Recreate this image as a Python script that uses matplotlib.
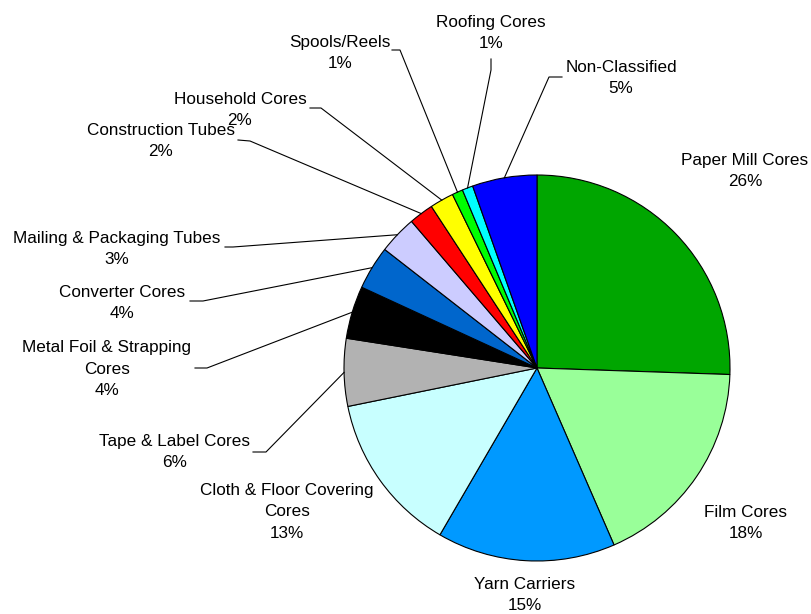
import numpy as np
import matplotlib
matplotlib.use('Agg')
from matplotlib import pyplot as plt

plt.rcParams['font.family'] = ['Liberation Sans', 'DejaVu Sans']

categories = ['Paper Mill Cores', 'Film Cores', 'Yarn Carriers',
              'Cloth & Floor Covering\nCores', 'Tape & Label Cores',
              'Metal Foil & Strapping\nCores', 'Converter Cores',
              'Mailing & Packaging Tubes', 'Construction Tubes',
              'Household Cores', 'Spools/Reels', 'Roofing Cores',
              'Non-Classified']
shares = [25.5, 17.9, 14.9, 13.4, 5.65, 4.4, 3.65, 3.2, 2.05, 2.0, 0.9, 0.9, 5.4]
colors = ['#00A600', '#99FF99', '#0099FF', '#C8FFFF', '#B2B2B2', '#000000',
          '#0066CC', '#CCCCFF', '#FF0000', '#FFFF00', '#00FF00', '#00FFFF',
          '#0000FF']

W, H = 812, 614
fig = plt.figure(figsize=(W / 100, H / 100), dpi=100)
ax = fig.add_axes([0, 0, 1, 1])

cx, cy, r = 537, H - 368, 193
wedges, _ = ax.pie(shares, colors=colors, startangle=90, counterclock=False,
                   center=(cx, cy), radius=r, frame=True,
                   wedgeprops=dict(edgecolor='black', linewidth=0.8))
ax.set_xlim(0, W)
ax.set_ylim(0, H)
ax.set_aspect('equal')
ax.axis('off')

total = sum(shares)
# label centre in image pixels, and leader line (start, elbow) or None
layout = [
    ((745, 171), None),
    ((746, 523), None),
    ((525, 595), None),
    ((287, 512), None),
    ((175, 452), [(253, 452), (266, 452)]),
    ((107, 369), [(195, 368), (207, 368)]),
    ((122, 303), [(190, 301), (203, 301)]),
    ((117, 249), [(225, 247), (233, 247)]),
    ((161, 141), [(238, 140), (250, 141)]),
    ((240, 110), [(310, 108), (321, 108)]),
    ((340, 53), [(392, 50), (400, 50)]),
    ((491, 33), [(491, 59), (491, 70)]),
    ((621, 78), [(562, 77), (549, 77)]),
]

for w, name, val, (pos, lead) in zip(wedges, categories, shares, layout):
    pct = int(round(val / total * 100))
    ax.text(pos[0], H - pos[1], f'{name}\n{pct}%', ha='center', va='center',
            fontsize=12.3, linespacing=1.52, color='black')
    if lead:
        mid = np.deg2rad((w.theta1 + w.theta2) / 2)
        ex, ey = cx + r * np.cos(mid), cy + r * np.sin(mid)
        xs = [lead[0][0], lead[1][0], ex]
        ys = [H - lead[0][1], H - lead[1][1], ey]
        ax.plot(xs, ys, color='black', linewidth=0.8)

plt.savefig('out.png', dpi=100)
